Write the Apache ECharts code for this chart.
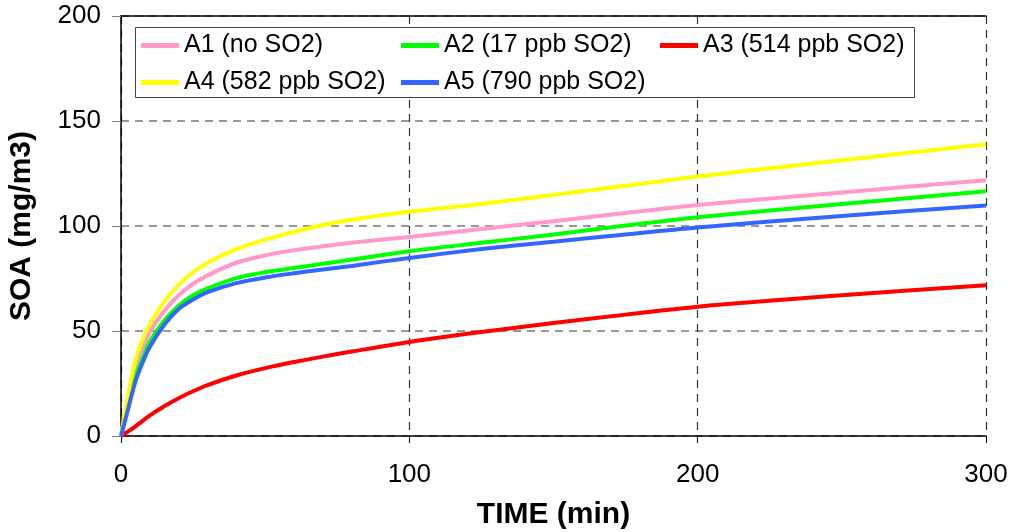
<!DOCTYPE html>
<html>
<head>
<meta charset="utf-8">
<script src="https://cdn.jsdelivr.net/npm/echarts@6/dist/echarts.min.js"></script>
<style>html,body{margin:0;padding:0;background:#fff}#c{width:1009px;height:532px}</style>
</head>
<body>
<div id="c"></div>
<script>
const seriesNames = ['A1 (no SO2)', 'A2 (17 ppb SO2)', 'A3 (514 ppb SO2)', 'A4 (582 ppb SO2)', 'A5 (790 ppb SO2)'];
const seriesColors = ['#ff99cc', '#00ff00', '#ff0000', '#ffff00', '#3366ff'];
const timeMin = [0, 2.5, 5, 7.5, 10, 15, 20, 25, 30, 40, 50, 60, 70, 80, 100, 125, 150, 175, 200, 250, 300];
const a1 = [0, 17, 33, 42, 49.5, 59.5, 67, 72.5, 76.5, 82.5, 86, 88.5, 90.4, 92, 94.8, 98.6, 102.3, 106.2, 110, 116, 121.8];
const a2 = [0, 14, 28, 37, 45, 55, 62, 67, 70.3, 75.2, 78, 80, 82, 84, 88, 92, 96, 100.2, 104.2, 110.5, 116.5];
const a3 = [0, 2.2, 4.6, 7.2, 9.8, 14.2, 18, 21.3, 24.2, 28.8, 32.3, 35.2, 37.8, 40.2, 44.8, 49.5, 53.8, 57.8, 61.6, 67, 71.8];
const a4 = [0, 20, 36, 46, 53, 64, 72, 78, 82.5, 89, 93.5, 97.2, 100.5, 103, 106.8, 110.5, 114.8, 119.2, 123.6, 131.3, 138.9];
const a5 = [0, 13, 26, 35, 42.5, 53, 60.5, 65, 68.5, 72.8, 75.5, 77.5, 79.3, 81, 84.8, 89, 92.5, 96, 99.3, 104.8, 109.8];
const xTicks = [0, 100, 200, 300];
const yTicks = [0, 50, 100, 150, 200];
const allValues = [a1, a2, a3, a4, a5];

const FONT = '"Liberation Sans", Arial, sans-serif';
const chart = echarts.init(document.getElementById('c'), null, {renderer: 'canvas'});

const legendPos = [[141, 33], [401, 33], [660, 33], [141, 70], [401, 70]];

const option = {
  animation: false,
  backgroundColor: '#ffffff',
  grid: {left: 121, right: 23, top: 16, bottom: 96, containLabel: false, outerBoundsMode: 'none'},
  graphic: [{
    type: 'rect', z: 3,
    shape: {x: 135.5, y: 27.5, width: 779, height: 70},
    style: {fill: '#ffffff', stroke: '#444444', lineWidth: 1}
  }],
  legend: seriesNames.map((n, i) => ({
    data: [n], left: legendPos[i][0], top: legendPos[i][1], z: 5,
    padding: 0, icon: 'rect', itemWidth: 38, itemHeight: 5, itemGap: 0,
    textStyle: {fontFamily: FONT, fontSize: 25, color: '#000', padding: [0, 0, 0, 0]}
  })),
  xAxis: [{
    type: 'value', min: xTicks[0], max: xTicks[xTicks.length - 1], interval: 100,
    name: 'TIME (min)', nameLocation: 'middle', nameGap: 64,
    nameTextStyle: {fontFamily: FONT, fontSize: 30, fontWeight: 'bold', color: '#000'},
    axisLine: {show: true, lineStyle: {color: '#000', width: 1.5}},
    axisTick: {show: true, length: 7, lineStyle: {color: '#000'}},
    axisLabel: {fontFamily: FONT, fontSize: 26, color: '#000', margin: 26},
    splitLine: {show: true, lineStyle: {color: '#333', type: [8, 6], width: 1.2}}
  }, {
    type: 'value', position: 'top', min: 0, max: 300,
    axisLine: {show: true, onZero: false, lineStyle: {color: '#000', width: 1.5}},
    axisTick: {show: false}, axisLabel: {show: false}, splitLine: {show: false}
  }],
  yAxis: {
    type: 'value', min: yTicks[0], max: yTicks[yTicks.length - 1], interval: 50,
    name: 'SOA (mg/m3)', nameLocation: 'middle', nameGap: 84, nameRotate: 90,
    nameTextStyle: {fontFamily: FONT, fontSize: 30, fontWeight: 'bold', color: '#000'},
    axisLine: {show: true, lineStyle: {color: '#000', width: 1.5}},
    axisTick: {show: true, length: 9, lineStyle: {color: '#808080'}},
    axisLabel: {fontFamily: FONT, fontSize: 26, color: '#000', margin: 20},
    splitLine: {show: true, lineStyle: {color: '#777', type: [8, 6], width: 1.5}}
  },
  series: seriesNames.map((n, i) => ({
    name: n, type: 'line', xAxisIndex: 0,
    data: timeMin.map((t, j) => [t, allValues[i][j]]),
    smooth: 0.3, showSymbol: false, symbol: 'none',
    lineStyle: {color: seriesColors[i], width: 4},
    itemStyle: {color: seriesColors[i]}
  }))
};
chart.setOption(option);
</script>
</body>
</html>
